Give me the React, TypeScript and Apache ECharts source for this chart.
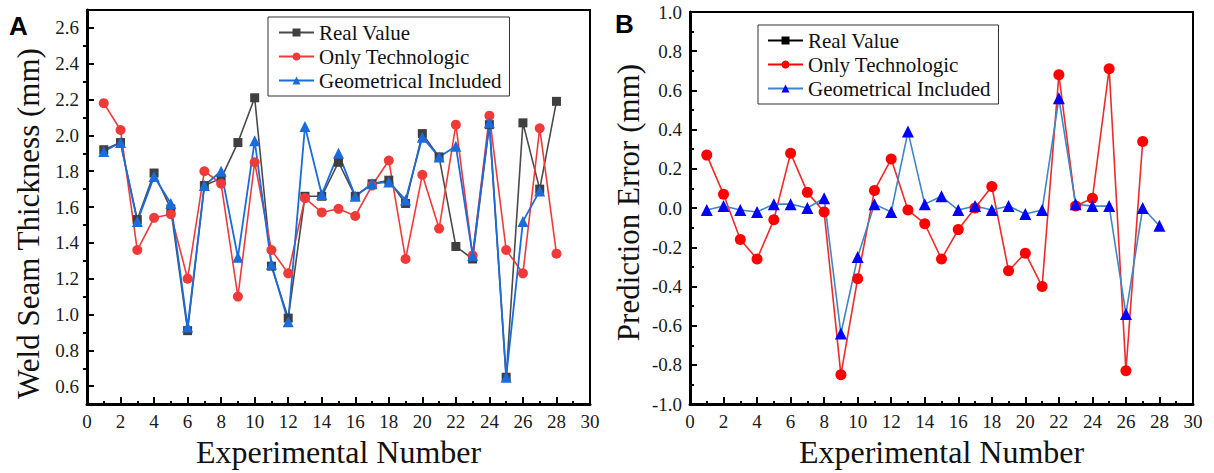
import React, { useEffect, useRef } from "react";
import * as echarts from "echarts";

const expNo = [1, 2, 3, 4, 5, 6, 7, 8, 9, 10, 11, 12, 13, 14, 15, 16, 17, 18, 19, 20, 21, 22, 23, 24, 25, 26, 27, 28];
const realValue = [1.92, 1.96, 1.53, 1.79, 1.59, 0.91, 1.72, 1.76, 1.96, 2.21, 1.27, 0.98, 1.66, 1.66, 1.85, 1.66, 1.73, 1.75, 1.62, 2.01, 1.88, 1.38, 1.31, 2.06, 0.65, 2.07, 1.70, 2.19];
const onlyTechnologic = [2.18, 2.03, 1.36, 1.54, 1.56, 1.20, 1.80, 1.73, 1.10, 1.85, 1.36, 1.23, 1.65, 1.57, 1.59, 1.55, 1.72, 1.86, 1.31, 1.78, 1.48, 2.06, 1.33, 2.11, 1.36, 1.23, 2.04, 1.34];
const geometricalIncluded = [1.91, 1.96, 1.52, 1.77, 1.62, 0.93, 1.72, 1.80, 1.32, 1.97, 1.28, 0.96, 2.05, 1.67, 1.90, 1.66, 1.73, 1.74, 1.64, 1.99, 1.88, 1.94, 1.33, 2.07, 0.65, 1.52, 1.69, null];
const errorOnlyTechnologic = [0.27, 0.07, -0.16, -0.26, -0.06, 0.28, 0.08, -0.02, -0.85, -0.36, 0.09, 0.25, -0.01, -0.08, -0.26, -0.11, 0.0, 0.11, -0.32, -0.23, -0.40, 0.68, 0.01, 0.05, 0.71, -0.83, 0.34, null];
const errorGeometricalIncluded = [-0.01, 0.01, -0.01, -0.02, 0.02, 0.02, 0.0, 0.05, -0.64, -0.25, 0.02, -0.02, 0.39, 0.02, 0.06, -0.01, 0.01, -0.01, 0.01, -0.03, -0.01, 0.56, 0.02, 0.01, 0.01, -0.54, 0.0, -0.09];

const leftMajorTicks = [0.6, 0.8, 1.0, 1.2, 1.4, 1.6, 1.8, 2.0, 2.2, 2.4, 2.6];
const leftMinorTicks = [0.7, 0.9, 1.1, 1.3, 1.5, 1.7, 1.9, 2.1, 2.3, 2.5];
const rightMajorTicks = [-1.0, -0.8, -0.6, -0.4, -0.2, 0.0, 0.2, 0.4, 0.6, 0.8, 1.0];

const legendNames = ["Real Value", "Only Technologic", "Geometrical Included"];

const SERIF = '"Liberation Serif", "Times New Roman", serif';

const pairs = (arr: (number | null)[]) =>
  expNo.map((x, i) => [x, arr[i]]).filter((p) => p[1] !== null);

function xAxisCfg(gridIndex: number) {
  return {
    type: "value",
    gridIndex,
    min: 0,
    max: 30,
    interval: 2,
    name: "Experimental Number",
    nameLocation: "middle",
    nameGap: 18,
    nameTextStyle: { fontFamily: SERIF, fontSize: 32, color: "#111" },
    axisLine: { show: true, onZero: false, lineStyle: { color: "#000", width: 3 } },
    axisTick: { show: true, inside: true, length: 7, lineStyle: { color: "#000", width: 2 } },
    minorTick: { show: true, splitNumber: 2, length: 3, lineStyle: { color: "#000", width: 2 } },
    axisLabel: { margin: 8, fontFamily: SERIF, fontSize: 19, color: "#1a1a1a" },
    splitLine: { show: false },
    minorSplitLine: { show: false },
  };
}

export default function App() {
  const ref = useRef<HTMLDivElement>(null);
  useEffect(() => {
    if (!ref.current) return;
    const chart = echarts.init(ref.current, undefined, { renderer: "svg" });
    const option: any = {
      animation: false,
      backgroundColor: "#fff",
      grid: [
        { left: 87, top: 10, width: 503, height: 405, show: true, borderColor: "#000", borderWidth: 2, backgroundColor: "transparent" },
        { left: 690, top: 12, width: 503, height: 404, show: true, borderColor: "#000", borderWidth: 2, backgroundColor: "transparent" },
      ],
      xAxis: [xAxisCfg(0), xAxisCfg(1)],
      yAxis: [
        {
          type: "value",
          gridIndex: 0,
          min: 0.5,
          max: 2.7,
          name: "Weld Seam Thickness (mm)",
          nameLocation: "middle",
          nameGap: 43,
          nameTextStyle: { fontFamily: SERIF, fontSize: 31, color: "#111", padding: [0, 33, 0, 0] },
          axisLine: { show: true, onZero: false, lineStyle: { color: "#000", width: 3 } },
          axisTick: { show: true, inside: true, length: 7, customValues: leftMajorTicks, lineStyle: { color: "#000", width: 2 } },
          axisLabel: {
            margin: 8,
            fontFamily: SERIF,
            fontSize: 19,
            color: "#1a1a1a",
            customValues: leftMajorTicks,
            formatter: (v: number) => v.toFixed(1),
          },
          splitLine: { show: false },
        },
        {
          type: "value",
          gridIndex: 0,
          min: 0.5,
          max: 2.7,
          axisLine: { show: false },
          axisTick: { show: true, inside: true, length: 4, customValues: leftMinorTicks, lineStyle: { color: "#000", width: 2 } },
          axisLabel: { show: false },
          splitLine: { show: false },
        },
        {
          type: "value",
          gridIndex: 1,
          min: -1,
          max: 1,
          interval: 0.2,
          name: "Prediction Error (mm)",
          nameLocation: "middle",
          nameGap: 46,
          nameTextStyle: { fontFamily: SERIF, fontSize: 31, color: "#111", padding: [0, 0, 0, 11] },
          axisLine: { show: true, onZero: false, lineStyle: { color: "#000", width: 3 } },
          axisTick: { show: true, inside: true, length: 7, lineStyle: { color: "#000", width: 2 } },
          minorTick: { show: true, splitNumber: 2, length: 4, lineStyle: { color: "#000", width: 2 } },
          axisLabel: {
            margin: 8,
            fontFamily: SERIF,
            fontSize: 19,
            color: "#1a1a1a",
            customValues: rightMajorTicks,
            formatter: (v: number) => v.toFixed(1),
          },
          splitLine: { show: false },
          minorSplitLine: { show: false },
        },
      ],
      legend: [
        {
          left: 268,
          top: 17,
          orient: "vertical",
          data: legendNames,
          itemWidth: 35,
          itemHeight: 10,
          itemGap: 3,
          padding: [5, 8, 5, 10],
          borderColor: "#333",
          borderWidth: 1,
          backgroundColor: "#fff",
          textStyle: { fontFamily: SERIF, fontSize: 21, color: "#111", padding: [0, 0, 0, 0] },
          selectedMode: false,
        },
        {
          left: 758,
          top: 25,
          orient: "vertical",
          data: [
            { name: legendNames[0], itemStyle: { color: "#000" }, lineStyle: { color: "#000" } },
            { name: legendNames[1], itemStyle: { color: "#ff0000" }, lineStyle: { color: "#ff0000" } },
            { name: legendNames[2], itemStyle: { color: "#0000ff" }, lineStyle: { color: "#3f86c6" } },
          ],
          itemWidth: 35,
          itemHeight: 10,
          itemGap: 3,
          padding: [5, 8, 5, 9],
          borderColor: "#333",
          borderWidth: 1,
          backgroundColor: "#fff",
          textStyle: { fontFamily: SERIF, fontSize: 21, color: "#111" },
          selectedMode: false,
        },
      ],
      graphic: [
        { type: "text", left: 9, top: 13, style: { text: "A", font: 'bold 26px "Liberation Sans", Arial, sans-serif', fill: "#000" } },
        { type: "text", left: 615, top: 11, style: { text: "B", font: 'bold 26px "Liberation Sans", Arial, sans-serif', fill: "#000" } },
      ],
      series: [
        {
          name: legendNames[0],
          type: "line",
          xAxisIndex: 0,
          yAxisIndex: 0,
          data: pairs(realValue),
          symbol: "rect",
          symbolSize: 9,
          itemStyle: { color: "#3f3f3f" },
          lineStyle: { color: "#4a4a4a", width: 1.6 },
        },
        {
          name: legendNames[1],
          type: "line",
          xAxisIndex: 0,
          yAxisIndex: 0,
          data: pairs(onlyTechnologic),
          symbol: "circle",
          symbolSize: 10,
          itemStyle: { color: "#f03a3a" },
          lineStyle: { color: "#f03a3a", width: 1.6 },
        },
        {
          name: legendNames[2],
          type: "line",
          xAxisIndex: 0,
          yAxisIndex: 0,
          data: pairs(geometricalIncluded),
          symbol: "triangle",
          symbolSize: 11,
          itemStyle: { color: "#1a6bdc" },
          lineStyle: { color: "#1a6bdc", width: 1.8 },
        },
        {
          name: legendNames[0],
          type: "line",
          xAxisIndex: 1,
          yAxisIndex: 2,
          data: [],
          symbol: "rect",
          symbolSize: 9,
          itemStyle: { color: "#000" },
          lineStyle: { color: "#000", width: 1.6 },
        },
        {
          name: legendNames[1],
          type: "line",
          xAxisIndex: 1,
          yAxisIndex: 2,
          data: pairs(errorOnlyTechnologic),
          symbol: "circle",
          symbolSize: 11,
          itemStyle: { color: "#ff0000" },
          lineStyle: { color: "#ee2a2a", width: 1.6 },
        },
        {
          name: legendNames[2],
          type: "line",
          xAxisIndex: 1,
          yAxisIndex: 2,
          data: pairs(errorGeometricalIncluded),
          symbol: "triangle",
          symbolSize: 12,
          itemStyle: { color: "#0000ff" },
          lineStyle: { color: "#3f86c6", width: 1.6 },
        },
      ],
    };
    chart.setOption(option);
    return () => chart.dispose();
  }, []);
  return (
    <div
      ref={ref}
      style={{ position: "absolute", left: 0, top: 0, width: 1214, height: 473, background: "#fff" }}
    />
  );
}
